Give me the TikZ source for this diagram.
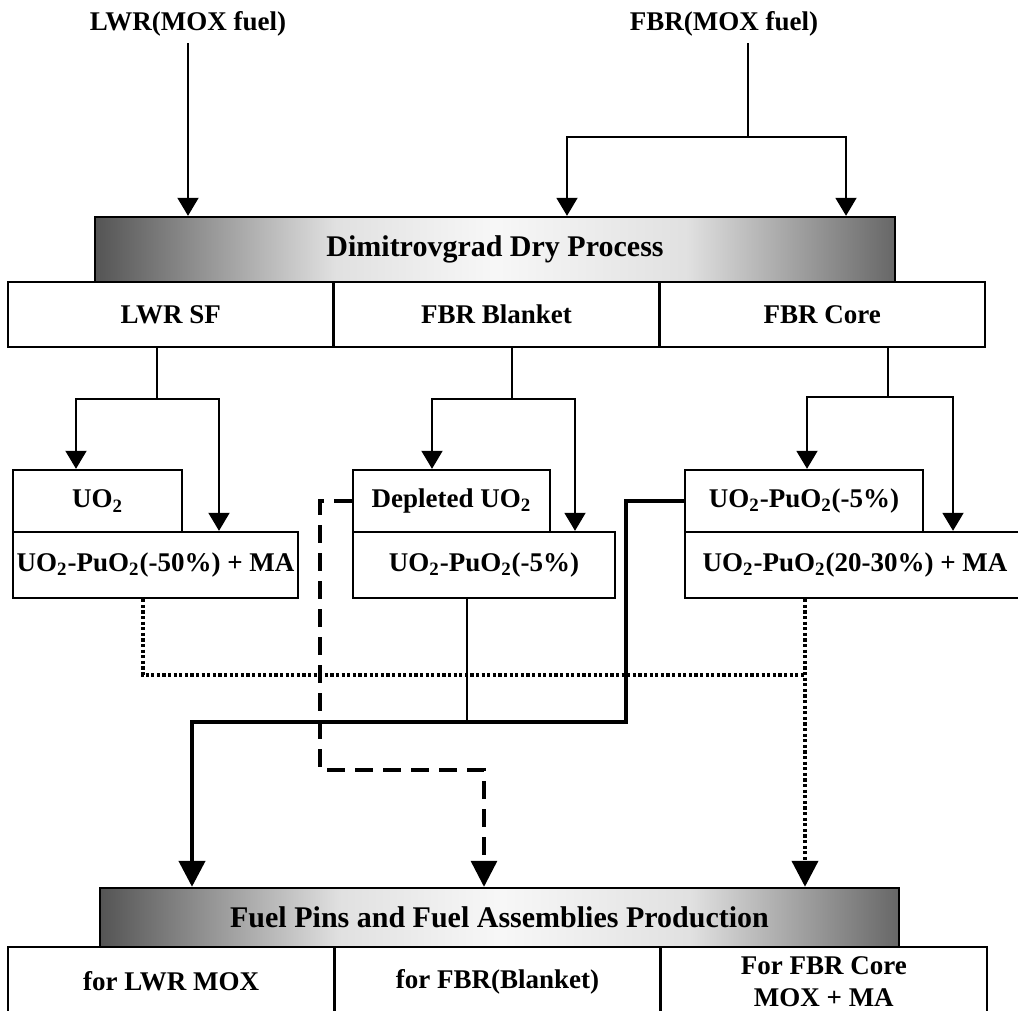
\documentclass[tikz,border=0pt]{standalone}
\usepackage{fontspec}
\setmainfont{Liberation Serif}
\usepackage{tikz}
\usetikzlibrary{arrows.meta}

\pgfdeclarehorizontalshading{bannershade}{100bp}{color(0bp)=(black!84); color(22bp)=(black!78); color(40bp)=(black!12); color(50bp)=(black!3); color(62bp)=(black!12); color(80bp)=(black!78); color(100bp)=(black!84)}

\tikzset{
	>={Triangle[width=10.5pt,length=9pt]},
	srclabel/.style={font=\fontsize{13.5}{16}\selectfont\bfseries},
	box/.style={draw, line width=1.2pt, inner sep=0pt, font=\fontsize{13.5}{16}\selectfont\bfseries},
	banner/.style={box, shade, shading=bannershade, font=\fontsize{15}{18}\selectfont\bfseries},
	link/.style={line width=1pt},
	solidlink/.style={line width=2.2pt},
	dashlink/.style={line width=1.6pt, dash pattern=on 9pt off 5pt},
	dotlink/.style={line width=2pt, dash pattern=on 1.6pt off 1.2pt},
	bigtip/.style={-{Triangle[width=13pt,length=13pt]}}
}

\begin{document}
\begin{tikzpicture}[x=0.5pt, y=-0.5pt]
	\useasboundingbox (0,0) rectangle (1018,1011);

	\node[srclabel] (lwrtop) at (188,24) {LWR(MOX fuel)};
	\node[srclabel] (fbrtop) at (724,24) {FBR(MOX fuel)};

	\node[banner, minimum width=400pt, minimum height=32.5pt] (dry) at (495,249.5) {Dimitrovgrad Dry Process};
	\node[box, minimum width=162.8pt, minimum height=32.5pt] (lwrsf) at (170.8,314.5) {LWR SF};
	\node[box, minimum width=162.8pt, minimum height=32.5pt] (blanket) at (496.5,314.5) {FBR Blanket};
	\node[box, minimum width=162.8pt, minimum height=32.5pt] (core) at (822.2,314.5) {FBR Core};

	\node[box, minimum width=84.5pt, minimum height=31pt] (lwruo) at (97.5,501) {UO\textsubscript{2}};
	\node[box, minimum width=142.5pt, minimum height=33pt] (lwrmix) at (155.5,565) {UO\textsubscript{2}-PuO\textsubscript{2}(-50\%) + MA};
	\node[box, minimum width=98.5pt, minimum height=31pt] (blkdep) at (451.5,501) {Depleted UO\textsubscript{2}};
	\node[box, minimum width=131pt, minimum height=33pt] (blkmix) at (484,565) {UO\textsubscript{2}-PuO\textsubscript{2}(-5\%)};
	\node[box, minimum width=119pt, minimum height=31pt] (corelow) at (804,501) {UO\textsubscript{2}-PuO\textsubscript{2}(-5\%)};
	\node[box, minimum width=170pt, minimum height=33pt] (corehigh) at (855,565) {UO\textsubscript{2}-PuO\textsubscript{2}(20-30\%) + MA};

	\node[banner, minimum width=399.5pt, minimum height=29.5pt] (fuel) at (499.5,917.5) {Fuel Pins and Fuel Assemblies Production};
	\node[box, minimum width=163.2pt, minimum height=34.5pt] (forlwr) at (171.2,981.5) {for LWR MOX};
	\node[box, minimum width=163.2pt, minimum height=34.5pt] (forblk) at (497.5,981.5) {for FBR(Blanket)};
	\node[box, minimum width=163.2pt, minimum height=34.5pt, align=center] (forcore) at (823.8,981.5) {For FBR Core\\MOX + MA};

	\coordinate (fbrfork) at (748,137);
	\coordinate (fbrl) at (567,137);
	\coordinate (fbrr) at (846,137);
	\coordinate (lwrfork) at (157,399);
	\coordinate (lwrl) at (76,399);
	\coordinate (lwrr) at (219,399);
	\coordinate (blkfork) at (512,399);
	\coordinate (blkl) at (432,399);
	\coordinate (blkr) at (575,399);
	\coordinate (corefork) at (888,397);
	\coordinate (corel) at (807,397);
	\coordinate (corer) at (953,397);

	\draw[link, ->] (lwrtop) -- (lwrtop |- dry.north);
	\draw[link] (fbrtop.south -| fbrfork) -- (fbrfork);
	\draw[link, ->] (fbrfork) -| (fbrl |- dry.north);
	\draw[link, ->] (fbrfork) -| (fbrr |- dry.north);

	\draw[link] (lwrsf.south -| lwrfork) -- (lwrfork);
	\draw[link, ->] (lwrfork) -| (lwrl |- lwruo.north);
	\draw[link, ->] (lwrfork) -| (lwrr |- lwrmix.north);
	\draw[link] (blanket.south -| blkfork) -- (blkfork);
	\draw[link, ->] (blkfork) -| (blkl |- blkdep.north);
	\draw[link, ->] (blkfork) -| (blkr |- blkmix.north);
	\draw[link] (core.south -| corefork) -- (corefork);
	\draw[link, ->] (corefork) -| (corel |- corelow.north);
	\draw[link, ->] (corefork) -| (corer |- corehigh.north);

	\coordinate (dotl) at (143,675);
	\coordinate (dotr) at (805,675);
	\coordinate (solidr) at (626,722);
	\coordinate (solidl) at (192,722);
	\coordinate (blkout) at (467,722);
	\coordinate (dashl) at (320,770);
	\coordinate (dashr) at (484,770);

	\draw[dotlink] (lwrmix.south -| dotl) |- (dotr);
	\draw[dotlink, bigtip] (corehigh.south -| dotr) -- (dotr |- fuel.north);
	\draw[link, line width=1.3pt] (blkmix.south -| blkout) -- (blkout);
	\draw[solidlink, bigtip] (corelow.west) -| (solidr) -- (solidl) -- (solidl |- fuel.north);
	\draw[dashlink, bigtip] (blkdep.west) -| (dashl) -- (dashr) -- (dashr |- fuel.north);
\end{tikzpicture}
\end{document}
